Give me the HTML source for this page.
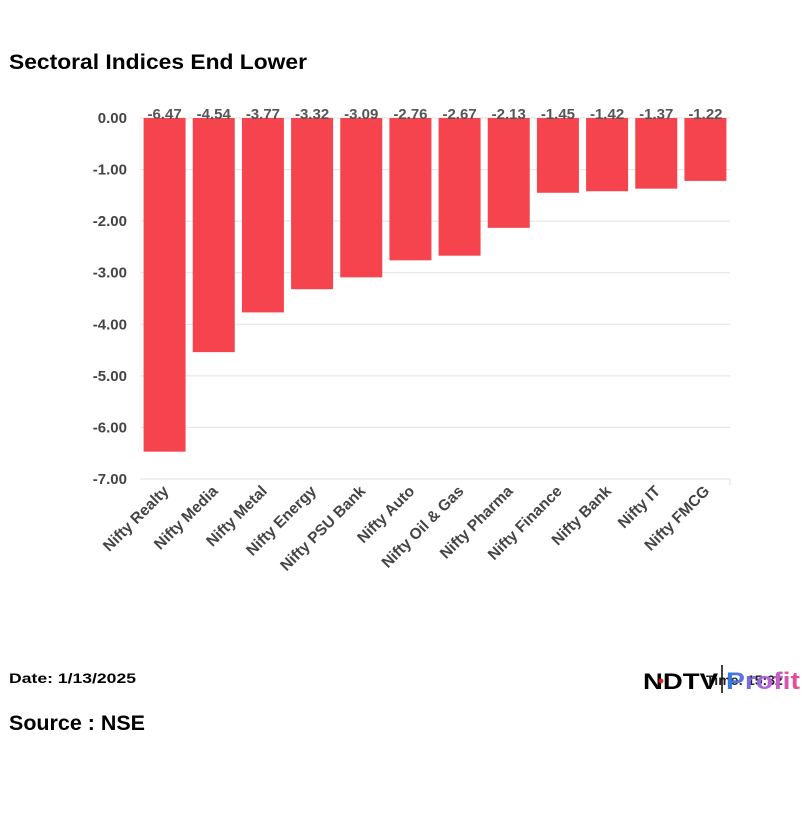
<!DOCTYPE html>
<html><head><meta charset="utf-8"><style>
body{margin:0;background:#fff;width:810px;height:810px;overflow:hidden;font-family:"Liberation Sans",sans-serif}
</style></head><body>
<svg width="810" height="810" viewBox="0 0 810 810">
<text x="9" y="69" font-size="21" font-weight="bold" fill="#000" textLength="298" lengthAdjust="spacingAndGlyphs">Sectoral Indices End Lower</text>
<g id="grid"></g><g id="bars"></g><g id="labels"></g>
<text x="9" y="683" font-size="14" font-weight="bold" fill="#000" textLength="127" lengthAdjust="spacingAndGlyphs">Date: 1/13/2025</text>
<text x="9" y="730" font-size="21" font-weight="bold" fill="#000" textLength="136" lengthAdjust="spacingAndGlyphs">Source : NSE</text>
<g>
<text x="706" y="685" font-size="14" font-weight="bold" fill="#222">Time: 15:32</text>
<text x="643" y="689" font-size="22" font-weight="900" fill="#000" textLength="75" lengthAdjust="spacingAndGlyphs">NDTV</text>
<circle cx="661" cy="681" r="2.4" fill="#d22"/>
<line x1="722" y1="665" x2="722" y2="693" stroke="#000" stroke-width="1.5"/>
<defs><linearGradient id="pg" x1="0" x2="1"><stop offset="0" stop-color="#2a7ae2"/><stop offset="0.6" stop-color="#c060e0"/><stop offset="1" stop-color="#e84a8a"/></linearGradient></defs>
<text x="726" y="689" font-size="24" font-weight="bold" fill="url(#pg)" textLength="74" lengthAdjust="spacingAndGlyphs">Profit</text>
</g>
</svg>
<script>
const categories=["Nifty Realty","Nifty Media","Nifty Metal","Nifty Energy","Nifty PSU Bank","Nifty Auto","Nifty Oil & Gas","Nifty Pharma","Nifty Finance","Nifty Bank","Nifty IT","Nifty FMCG"];
const values=[-6.47,-4.54,-3.77,-3.32,-3.09,-2.76,-2.67,-2.13,-1.45,-1.42,-1.37,-1.22];
const ticks=[0,-1,-2,-3,-4,-5,-6,-7];
const NS="http://www.w3.org/2000/svg";
const x0=140,x1=730,yTop=118,yBot=479;
const y=v=>yTop+(-v/7)*(yBot-yTop);
const bw=(x1-x0)/categories.length;
const xc=i=>x0+bw*(i+0.5);
function mk(t,a,p){const e=document.createElementNS(NS,t);for(const k in a)e.setAttribute(k,a[k]);p.appendChild(e);return e;}
const G=document.getElementById('grid'),B=document.getElementById('bars'),L=document.getElementById('labels');
ticks.forEach(t=>{
 const l=mk('line',{x1:x0,x2:x1,y1:y(t),y2:y(t),stroke:'#e2e2e2','stroke-width':1},G);
 
 
 const tx=mk('text',{x:127,y:y(t)+5,'text-anchor':'end','font-size':15,'font-weight':'bold',fill:'#444'},G);
 tx.textContent=t.toFixed(2);
 
 
});
mk('line',{x1:x1,x2:x1,y1:yBot,y2:yBot+6,stroke:'#ddd'},G);
values.forEach((v,i)=>{
 const r=mk('rect',{x:xc(i)-21,y:y(0),width:42,height:y(v)-y(0),fill:'#f5444e'},B);
 
 
 const vt=mk('text',{x:xc(i),y:y(0)+1,'text-anchor':'middle','font-size':15,'font-weight':'bold',fill:'#555'},L);
 vt.textContent=v.toFixed(2);
 
 
 const ax=xc(i)+5,ay=yBot+13;
 const ct=mk('text',{x:ax,y:ay,'text-anchor':'end','font-size':15.5,'font-weight':'bold',fill:'#444',transform:`rotate(-45 ${ax} ${ay})`},L);
 ct.textContent=categories[i];
 
 
});
</script>
</body></html>
